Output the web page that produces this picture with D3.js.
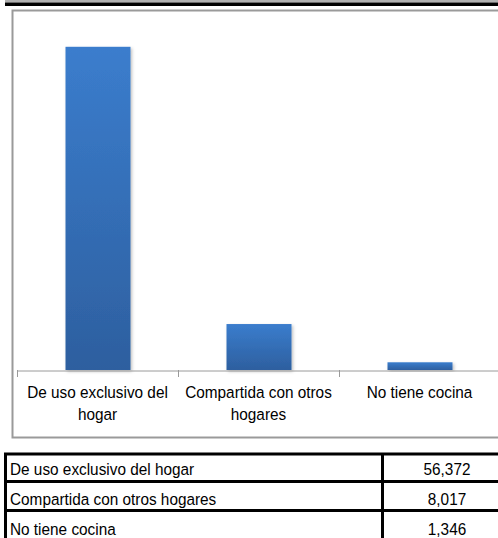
<!DOCTYPE html>
<html><head><meta charset="utf-8">
<script src="https://cdn.jsdelivr.net/npm/d3@7"></script>
<style>
html,body{margin:0;padding:0;background:#fff;}
svg{display:block;font-family:"Liberation Sans",Arial,sans-serif;}
</style></head>
<body>
<svg id="c" width="498" height="538"></svg>
<script>
const categories = ["De uso exclusivo del hogar", "Compartida con otros hogares", "No tiene cocina"];
const axisLabels = [["De uso exclusivo del", "hogar"], ["Compartida con otros", "hogares"], ["No tiene cocina"]];
const values = [56372, 8017, 1346];
const valueLabels = ["56,372", "8,017", "1,346"];

const svg = d3.select("#c");
const FS = "16.6px", SX = 0.925;

// top bands
svg.append("rect").attr("x",5).attr("y",0).attr("width",493).attr("height",2.5).attr("fill","#b0b0b0");
svg.append("rect").attr("x",5).attr("y",2.5).attr("width",493).attr("height",3.5).attr("fill","#000");

// chart frame
svg.append("rect").attr("x",12.5).attr("y",10.5).attr("width",500).attr("height",427)
  .attr("fill","#fff").attr("stroke","#9a9a9a").attr("stroke-width",2);

const defs = svg.append("defs");
const grad = defs.append("linearGradient").attr("id","bg").attr("x1",0).attr("y1",0).attr("x2",0).attr("y2",1);
grad.append("stop").attr("offset","0%").attr("stop-color","#3b7dcd");
grad.append("stop").attr("offset","100%").attr("stop-color","#2d5f9f");
const f = defs.append("filter").attr("id","sh").attr("x","-20%").attr("y","-20%").attr("width","150%").attr("height","140%");
f.append("feDropShadow").attr("dx",1.5).attr("dy",1.5).attr("stdDeviation",1.5).attr("flood-color","#000").attr("flood-opacity",0.25);

const x = d3.scaleBand().domain(categories).range([17, 500]).paddingInner(0).paddingOuter(0);
const y = d3.scaleLinear().domain([0, 60000]).range([370, 26]);
const bw = 65;

svg.append("g").selectAll("rect").data(values).join("rect")
  .attr("x",(d,i)=>x(categories[i]) + x.bandwidth()/2 - bw/2 + 0.5)
  .attr("y",d=>y(d))
  .attr("width",bw)
  .attr("height",d=>y(0)-y(d))
  .attr("fill","url(#bg)")
  .attr("filter","url(#sh)");

// axis
const ax = svg.append("g").attr("transform","translate(0,370.5)")
  .call(d3.axisBottom(x).tickSize(0).tickFormat(""));
ax.select(".domain").attr("stroke","#9a9a9a").attr("stroke-width",1);
const tickPos = categories.map(c=>x(c)).concat([x.range()[1]]);
svg.append("g").selectAll("line").data(tickPos).join("line")
  .attr("x1",d=>Math.round(d)+0.5).attr("x2",d=>Math.round(d)+0.5)
  .attr("y1",370).attr("y2",377).attr("stroke","#9a9a9a");

function addText(g, t, tx, ty, anchor){
  g.append("text").attr("transform",`translate(${tx},${ty}) scale(${SX},1)`)
    .attr("text-anchor",anchor).attr("font-size",FS).attr("fill","#000").text(t);
}

const lbl = svg.append("g");
axisLabels.forEach((lines,i)=>{
  const cx = x(categories[i]) + x.bandwidth()/2;
  lines.forEach((t,j)=> addText(lbl, t, cx, 398 + j*22, "middle"));
});

// table
const rowTop = [454, 481.5, 510.5, 540];
const tbl = svg.append("g");
const colX = 382.5;
tbl.selectAll("line.h").data(rowTop).join("line")
  .attr("x1",4).attr("x2",510).attr("y1",d=>d).attr("y2",d=>d)
  .attr("stroke","#000").attr("stroke-width",3);
tbl.append("line").attr("x1",5.5).attr("x2",5.5).attr("y1",453).attr("y2",540).attr("stroke","#000").attr("stroke-width",3);
tbl.append("line").attr("x1",colX).attr("x2",colX).attr("y1",453).attr("y2",540).attr("stroke","#000").attr("stroke-width",3);

const tg = tbl.append("g");
categories.forEach((c,i)=>{
  const base = [474.5, 504.5, 534.5][i];
  addText(tg, c, 10, base, "start");
  addText(tg, valueLabels[i], 447, base, "middle");
});
</script>
</body></html>
